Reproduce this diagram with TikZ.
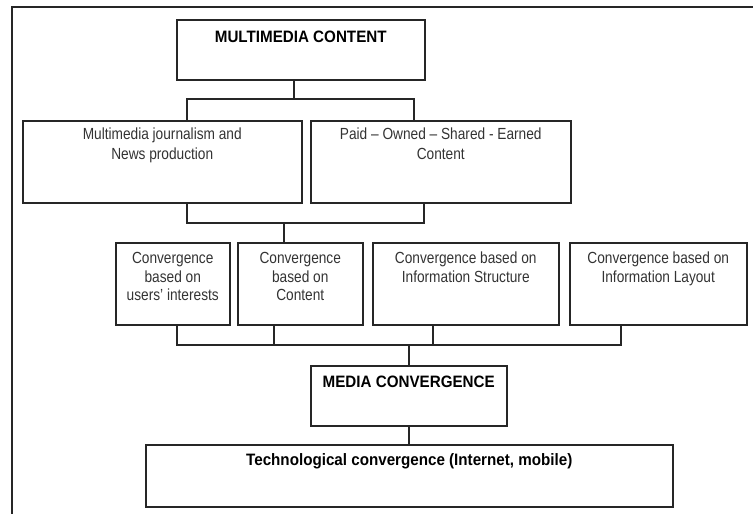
\documentclass[tikz,border=0pt]{standalone}
\usepackage{fontspec}
\setmainfont{Liberation Sans}
\newfontfamily\regfont[FakeStretch=0.85]{Liberation Sans}
\newfontfamily\ttlfont[FakeStretch=0.92]{Liberation Sans Bold}
\newcommand{\bxc}[4]{\parbox[t][#2pt][t]{#1pt}{\centering\vspace*{#3pt}\strut #4}}
\tikzset{
  box/.style={draw=black!85, line width=1.5pt, inner sep=0pt, anchor=north west},
  regA/.style={font=\regfont\fontsize{16.1}{19.5}\selectfont, text=black!80},
  regB/.style={font=\regfont\fontsize{16.1}{18.5}\selectfont, text=black!80},
  ttl/.style={font=\ttlfont\fontsize{16.5}{18}\selectfont, text=black},
  conn/.style={draw=black!85, line width=1.5pt},
}
\begin{document}
\begin{tikzpicture}[x=1pt,y=-1pt]
\useasboundingbox (0,0) rectangle (753,514);
% frame (top and left edges only)
\draw[conn] (12,514) -- (12,7) -- (753,7);
% boxes
\node[box,ttl] (mc) at (176,19) {\bxc{248}{60}{10.3}{MULTIMEDIA CONTENT}};
\node[box,regA] (mj) at (22,120) {\bxc{279}{82}{5.1}{Multimedia journalism and\\News production}};
\node[box,regA] (po) at (310,120) {\bxc{260}{82}{5.1}{Paid – Owned – Shared - Earned\\Content}};
\node[box,regB] (c1) at (115,242) {\bxc{114}{82}{7.8}{Convergence\\based on\\users’ interests}};
\node[box,regB] (c2) at (237,242) {\bxc{125}{82}{7.8}{Convergence\\based on\\Content}};
\node[box,regB] (c3) at (372,242) {\bxc{186}{82}{7.8}{Convergence based on\\Information Structure}};
\node[box,regB] (c4) at (569,242) {\bxc{177}{82}{7.8}{Convergence based on\\Information Layout}};
\node[box,ttl] (mcv) at (310,365) {\bxc{196}{60}{9.3}{MEDIA CONVERGENCE}};
\node[box,ttl] (tc) at (145,444) {\bxc{527}{62}{8.3}{Technological convergence (Internet, mobile)}};
% junction coordinates
\coordinate (h1m) at (294,99);
\coordinate (h1l) at (187,99);
\coordinate (h1r) at (414,99);
\coordinate (h2l) at (187,223);
\coordinate (h2r) at (424,223);
\coordinate (h2m) at (284,223);
\coordinate (b1) at (177,345);
\coordinate (b2) at (274,345);
\coordinate (b3) at (433,345);
\coordinate (b4) at (621,345);
\coordinate (bm) at (409,345);
% connectors
\draw[conn] (mc.south -| h1m) -- (h1m);
\draw[conn] (mj.north -| h1l) -- (h1l) -- (h1r) -- (po.north -| h1r);
\draw[conn] (mj.south -| h2l) -- (h2l) -- (h2r) -- (po.south -| h2r);
\draw[conn] (h2m) -- (c2.north -| h2m);
\draw[conn] (c1.south -| b1) -- (b1) -- (b4) -- (c4.south -| b4);
\draw[conn] (c2.south -| b2) -- (b2);
\draw[conn] (c3.south -| b3) -- (b3);
\draw[conn] (bm) -- (mcv.north -| bm);
\draw[conn] (mcv.south) -- (mcv.south |- tc.north);
\end{tikzpicture}
\end{document}
